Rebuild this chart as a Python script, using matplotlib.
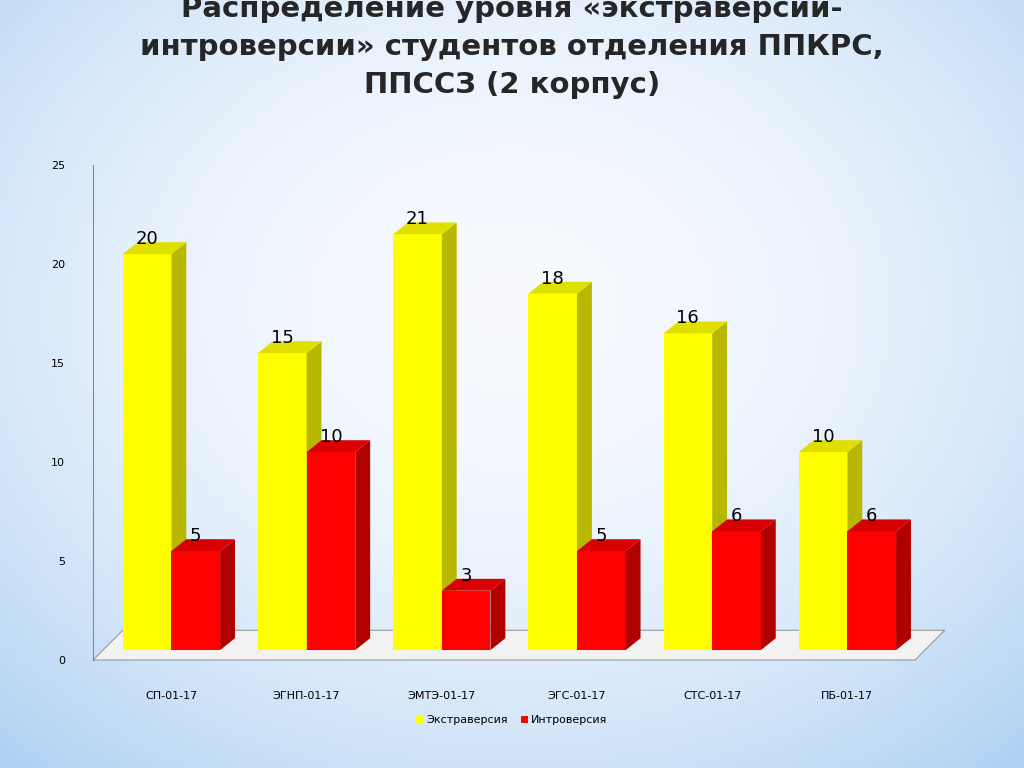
import matplotlib
matplotlib.use("Agg")
import matplotlib.pyplot as plt
import numpy as np
from matplotlib.patches import Polygon, Patch

categories = ["СП-01-17", "ЭГНП-01-17", "ЭМТЭ-01-17", "ЭГС-01-17", "СТС-01-17", "ПБ-01-17"]
extra = [20, 15, 21, 18, 16, 10]
intro = [5, 10, 3, 5, 6, 6]
yticks = [0, 5, 10, 15, 20, 25]

fig = plt.figure(figsize=(10.24, 7.68), dpi=100)
bg = fig.add_axes([0, 0, 1, 1], zorder=-10)
yy, xx = np.mgrid[0:1:200j, 0:1:200j]
r = np.sqrt(((xx - 0.5) / 0.75) ** 2 + ((yy - 0.6) / 0.8) ** 2)
c_in = np.array([0.97, 0.98, 1.0]); c_out = np.array([0.68, 0.82, 0.95])
t = np.clip(r, 0, 1)[..., None] ** 2
img = c_in * (1 - t) + c_out * t
bg.imshow(img, extent=[0, 1, 0, 1], aspect="auto", origin="lower")
bg.axis("off")

ax = fig.add_axes([93/1024, (768-660)/768, (915-93)/1024, 495/768])
ax.set_xlim(-0.58, 5.5)
ax.set_ylim(0, 25)
ax.patch.set_alpha(0)
for s in ["top", "right", "bottom"]:
    ax.spines[s].set_visible(False)
ax.spines["left"].set_color("#888888")
ax.set_yticks(yticks)
ax.tick_params(axis="y", labelsize=8, length=0, pad=20)
ax.set_xticks(range(len(categories)))
ax.set_xticklabels(categories, fontsize=8)
ax.tick_params(axis="x", length=0, pad=22)

dx, dy = 0.11, 0.6
w = 0.36
ax.add_patch(Polygon([(-0.58, 0), (5.5, 0), (5.5 + 0.22, 1.5), (-0.58 + 0.22, 1.5)],
                     closed=True, fc="#f2f2f2", ec="#999999", lw=0.8, zorder=1, clip_on=False))

def bar3d(x0, h, front, side, top, label):
    b = 0.5
    ax.add_patch(Polygon([(x0, b), (x0 + w, b), (x0 + w, b + h), (x0, b + h)], fc=front, ec="none", zorder=3))
    ax.add_patch(Polygon([(x0 + w, b), (x0 + w + dx, b + dy), (x0 + w + dx, b + h + dy), (x0 + w, b + h)], fc=side, ec="none", zorder=3))
    ax.add_patch(Polygon([(x0, b + h), (x0 + w, b + h), (x0 + w + dx, b + h + dy), (x0 + dx, b + h + dy)], fc=top, ec="none", zorder=3))
    ax.text(x0 + w / 2, b + h + 0.3, str(label), ha="center", va="bottom", fontsize=13, zorder=4)

for i in range(len(categories)):
    bar3d(i - w, extra[i], "#ffff00", "#b8b800", "#e0e000", extra[i])
    bar3d(i, intro[i], "#ff0000", "#b00000", "#d80000", intro[i])

fig.text(0.5, 1 - 47/768, "Распределение уровня «экстраверсии-\nинтроверсии» студентов отделения ППКРС,\nППССЗ (2 корпус)",
         ha="center", va="center", fontsize=21, fontweight="bold", color="#262626", linespacing=1.45)

fig.legend(handles=[Patch(fc="#ffff00", label="Экстраверсия"), Patch(fc="#ff0000", label="Интроверсия")],
           loc="center", bbox_to_anchor=(0.5, 1 - 720/768), ncol=2, frameon=False, fontsize=8,
           handlelength=0.6, handleheight=0.6, columnspacing=1.2, handletextpad=0.3)

fig.savefig("out.png", dpi=100)
